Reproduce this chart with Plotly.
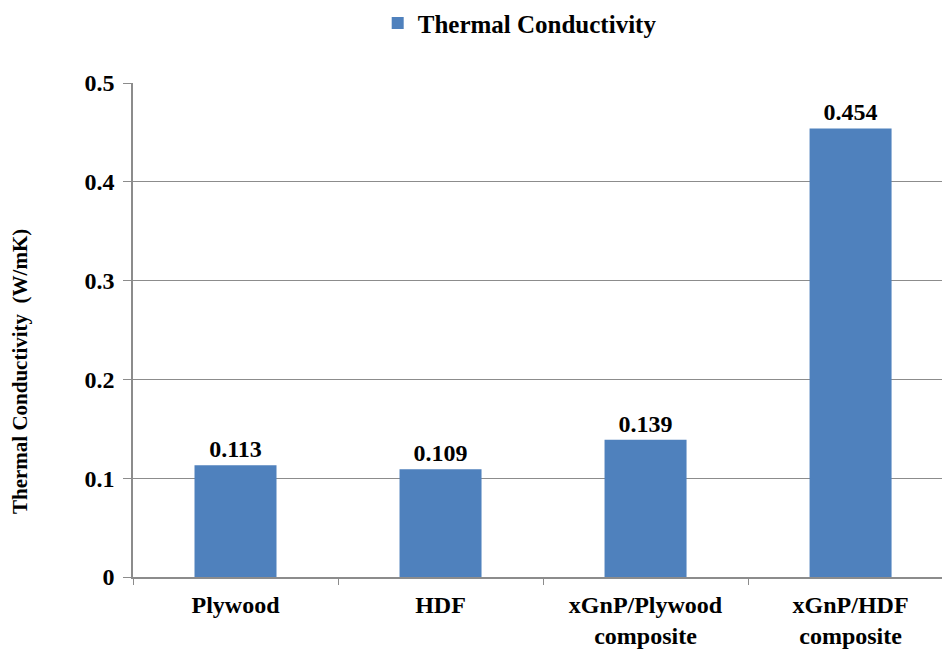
import plotly.graph_objects as go

# Thermal conductivity measurements (W/mK)
categories = ["Plywood", "HDF", "xGnP/Plywood<br>composite", "xGnP/HDF<br>composite"]
conductivity = [0.113, 0.109, 0.139, 0.454]
y_ticks = [0, 0.1, 0.2, 0.3, 0.4, 0.5]
y_tick_labels = ["0", "0.1", "0.2", "0.3", "0.4", "0.5"]
y_title = "Thermal Conductivity  (W/mK)"
series_name = "Thermal Conductivity"

FONT = "Liberation Serif"
BAR_COLOR = "#4F81BD"
GRID = "#8C8C8C"
SIZE = 24

fig = go.Figure()
fig.add_trace(go.Bar(
    x=categories,
    y=conductivity,
    name=f"<b>{series_name}</b>",
    marker=dict(color=BAR_COLOR, line=dict(width=0)),
    width=0.4,
    text=[f"<b>{v:.3f}</b>" for v in conductivity],
    textposition="outside",
    textfont=dict(family=FONT, size=SIZE, color="black"),
    cliponaxis=False,
    showlegend=True,
))

fig.update_layout(
    width=942,
    height=650,
    margin=dict(l=133, r=0, t=83, b=73),
    plot_bgcolor="white",
    paper_bgcolor="white",
    font=dict(family=FONT, size=SIZE, color="black"),
    showlegend=True,
    legend=dict(
        orientation="h",
        x=0.478, xanchor="center",
        y=1.121, yanchor="middle",
        font=dict(family=FONT, size=25, color="black"),
        itemwidth=30,
        bgcolor="rgba(0,0,0,0)",
    ),
    bargap=0.6,
)

fig.update_xaxes(
    range=[-0.5, 3.446],
    showgrid=False,
    showline=True,
    linecolor=GRID,
    linewidth=1.5,
    ticks="outside",
    tickson="boundaries",
    ticklen=6,
    tickcolor=GRID,
    ticklabelstandoff=5,
    tickfont=dict(family=FONT, size=SIZE, color="black"),
    tickprefix="<b>",
    ticksuffix="</b>",
)

fig.update_yaxes(
    range=[0, 0.5],
    tickvals=y_ticks,
    ticktext=[f"<b>{t}</b>" for t in y_tick_labels],
    showgrid=True,
    gridcolor=GRID,
    gridwidth=1.2,
    showline=True,
    linecolor=GRID,
    linewidth=1.5,
    ticks="outside",
    ticklen=8,
    tickcolor=GRID,
    ticklabelstandoff=4,
    zeroline=False,
    tickfont=dict(family=FONT, size=SIZE, color="black"),
)

# Vertical axis title, placed in pixel terms left of the tick labels
fig.add_annotation(
    text=f"<b>{y_title}</b>",
    xref="paper", yref="paper",
    x=(20 - 133) / 809, y=(577 - 372) / 494,
    xanchor="center", yanchor="middle",
    textangle=-90,
    showarrow=False,
    font=dict(family=FONT, size=21, color="black"),
)

fig.write_html("out.html")
